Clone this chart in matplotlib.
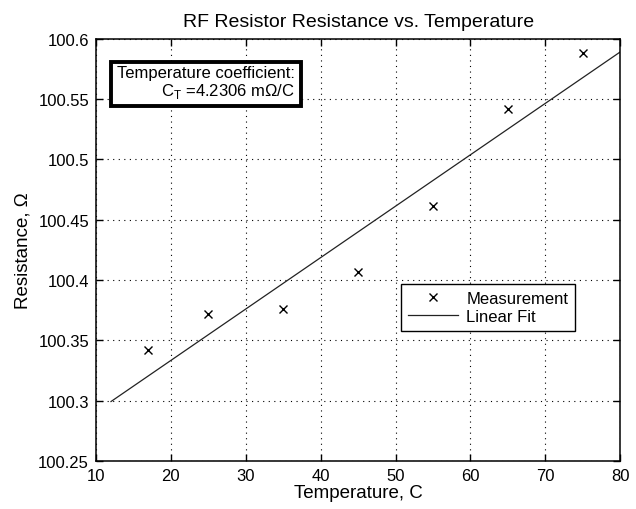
import numpy as np
import matplotlib
matplotlib.use("Agg")
import matplotlib.pyplot as plt

plt.rcParams['font.family'] = ['Liberation Sans', 'DejaVu Sans']

temps = [17, 25, 35, 45, 55, 65, 75]
resist = [100.342, 100.372, 100.376, 100.407, 100.461, 100.542, 100.588]
fit_range = [12, 80]
xticks = [10, 20, 30, 40, 50, 60, 70, 80]
yticks = [100.25, 100.3, 100.35, 100.4, 100.45, 100.5, 100.55, 100.6]
ytick_labels = ['100.25', '100.3', '100.35', '100.4', '100.45', '100.5', '100.55', '100.6']

coef = np.polyfit(temps, resist, 1)
fit_x = np.array(fit_range, dtype=float)
fit_y = np.polyval(coef, fit_x)

fig = plt.figure(figsize=(6.36, 5.10), dpi=100)
ax = fig.add_axes([0.151, 0.094, 0.824, 0.828])

ax.plot(temps, resist, linestyle='none', marker='x', color='black',
        markersize=5.5, markeredgewidth=1.0, label='Measurement')
ax.plot(fit_x, fit_y, color='#222222', linewidth=0.9, label='Linear Fit')

ax.set_xlim(10, 80)
ax.set_ylim(100.25, 100.6)
ax.set_xticks(xticks)
ax.set_yticks(yticks)
ax.set_yticklabels(ytick_labels)
ax.tick_params(direction='in', length=5, labelsize=12, top=True, right=True,
               width=1.0, pad=5)
ax.grid(True, linestyle=(0, (1, 4)), color='black', linewidth=0.8)
for s in ax.spines.values():
    s.set_linewidth(1.1)

ax.set_title('RF Resistor Resistance vs. Temperature', fontsize=14, pad=9)
ax.set_xlabel('Temperature, C', fontsize=13.5, labelpad=1)
ax.set_ylabel('Resistance, \u03a9', fontsize=13.5, labelpad=5)

ax.text(0.38, 0.896, 'Temperature coefficient:\nC$_\\mathregular{T}$ =4.2306 m\u03a9/C',
        transform=ax.transAxes, ha='right', va='center', fontsize=12,
        multialignment='right', linespacing=1.05,
        bbox=dict(boxstyle='square,pad=0.35', facecolor='white',
                  edgecolor='black', linewidth=2.8))

leg = ax.legend(loc='lower right', bbox_to_anchor=(0.914, 0.308), fontsize=12,
                frameon=True, fancybox=False, edgecolor='black', framealpha=1,
                handlelength=3.0, borderpad=0.4, labelspacing=0.2,
                handletextpad=0.5, borderaxespad=0)
leg.get_frame().set_linewidth(1.0)

fig.savefig('out.png', dpi=100, facecolor='white')
